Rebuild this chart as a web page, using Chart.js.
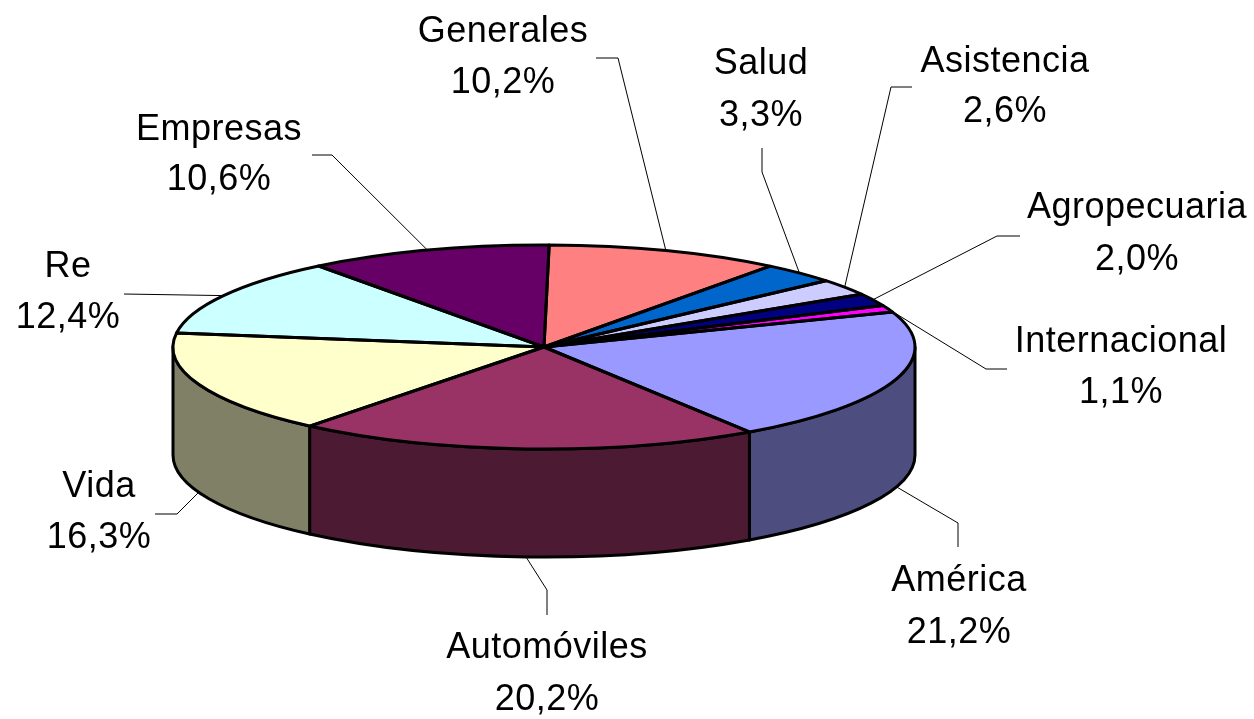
<!DOCTYPE html>
<html>
<head>
<meta charset="utf-8">
<script src="https://cdn.jsdelivr.net/npm/chart.js"></script>
<style>
  html, body { margin: 0; padding: 0; background: #ffffff; overflow: hidden; }
  canvas { display: block; }
</style>
</head>
<body>
<canvas id="c" width="1254" height="719"></canvas>
<script>
// ---- data ----
const categories = ['Generales', 'Salud', 'Asistencia', 'Agropecuaria', 'Internacional',
                    'América', 'Automóviles', 'Vida', 'Re', 'Empresas'];
const shares = [10.2, 3.3, 2.6, 2.0, 1.1, 21.2, 20.2, 16.3, 12.4, 10.6];

// ---- styles ----
const topColors = ['#FF8080', '#0066CC', '#CCCCFF', '#000080', '#FF00FF',
                   '#9999FF', '#993366', '#FFFFCC', '#CCFFFF', '#660066'];
function shade(hex, f) {
  const n = parseInt(hex.slice(1), 16);
  const r = Math.round(((n >> 16) & 255) * f), g = Math.round(((n >> 8) & 255) * f), b = Math.round((n & 255) * f);
  return 'rgb(' + r + ',' + g + ',' + b + ')';
}
const sideColors = topColors.map(c => shade(c, 0.5));

const TILT = 102 / 371;   // vertical squash of the pie top
const DEPTH = 108;        // thickness of the pie in px
const EDGE = 3;           // outline width of the pie

// label layout: [centerX, baseline line 1, baseline line 2]
const labelLayout = [
  [503, 42, 93], [761, 74, 126], [1005, 72, 122], [1137, 218, 270], [1121, 352, 403],
  [959, 591, 643], [547, 658, 710], [99, 497, 548], [68, 277, 328], [219, 140, 190]
];
// leader line: [startX, startY, elbowX, elbowY]; the end is computed on the pie
const leaderLayout = [
  [596, 58, 618, 58], [762, 148, 762, 172], [912, 87, 891, 87], [1020, 236, 997, 236],
  [1007, 369, 986, 369], [958, 547, 958, 523], [547, 615, 547, 590], [155, 514, 177, 514],
  [124, 294, 124, 294], [312, 155, 332, 155]
];

function pieGeom(chart) {
  const a = chart.chartArea;
  const rx = (a.right - a.left) / 2;
  return { rx: rx, ry: rx * TILT, depth: DEPTH };
}

const pie3d = {
  id: 'pie3d',
  beforeDatasetsDraw(chart) {
    const ctx = chart.ctx;
    const arcs = chart.getDatasetMeta(0).data;
    const g = pieGeom(chart);
    const cx = arcs[0].x, cy = arcs[0].y, r = arcs[0].outerRadius;
    // side walls (front half only)
    ctx.save();
    ctx.lineWidth = EDGE;
    ctx.lineJoin = 'round';
    ctx.strokeStyle = '#000';
    arcs.forEach((arc, i) => {
      const a0 = Math.max(arc.startAngle, 0), a1 = Math.min(arc.endAngle, Math.PI);
      if (a1 <= a0) return;
      ctx.beginPath();
      ctx.ellipse(cx, cy, g.rx, g.ry, 0, a0, a1, false);
      ctx.ellipse(cx, cy + g.depth, g.rx, g.ry, 0, a1, a0, true);
      ctx.closePath();
      ctx.fillStyle = sideColors[i];
      ctx.fill();
      ctx.stroke();
    });
    ctx.restore();
    // squash the library's arcs into the tilted top face
    ctx.save();
    ctx.translate(cx, cy);
    ctx.scale(g.rx / r, g.ry / r);
    ctx.translate(-cx, -cy);
  },
  afterDatasetsDraw(chart) {
    const ctx = chart.ctx;
    ctx.restore();
    const arcs = chart.getDatasetMeta(0).data;
    const g = pieGeom(chart);
    const cx = arcs[0].x, cy = arcs[0].y;
    // outlines of the top face slices
    ctx.save();
    ctx.lineWidth = EDGE;
    ctx.lineJoin = 'round';
    ctx.strokeStyle = '#000';
    arcs.forEach(arc => {
      ctx.beginPath();
      ctx.moveTo(cx, cy);
      ctx.lineTo(cx + g.rx * Math.cos(arc.startAngle), cy + g.ry * Math.sin(arc.startAngle));
      ctx.ellipse(cx, cy, g.rx, g.ry, 0, arc.startAngle, arc.endAngle, false);
      ctx.closePath();
      ctx.stroke();
    });
    ctx.restore();
    // leader lines and labels
    ctx.save();
    ctx.strokeStyle = '#000';
    ctx.lineWidth = 1;
    ctx.fillStyle = '#000';
    ctx.font = '36px "Liberation Sans", Arial, sans-serif';
    if ('letterSpacing' in ctx) ctx.letterSpacing = '0.5px';
    ctx.textAlign = 'center';
    ctx.textBaseline = 'alphabetic';
    arcs.forEach((arc, i) => {
      const mid = (arc.startAngle + arc.endAngle) / 2;
      const px = cx + g.rx * Math.cos(mid);
      const py = cy + g.ry * Math.sin(mid) + (Math.sin(mid) > 0 ? g.depth : 0);
      const L = leaderLayout[i];
      ctx.beginPath();
      ctx.moveTo(L[0], L[1]);
      ctx.lineTo(L[2], L[3]);
      ctx.lineTo(px, py);
      ctx.stroke();
      const T = labelLayout[i];
      const v = chart.data.datasets[0].data[i];
      ctx.fillText(chart.data.labels[i], T[0], T[1]);
      ctx.fillText(v.toFixed(1).replace('.', ',') + '%', T[0], T[2]);
    });
    ctx.restore();
  }
};

new Chart(document.getElementById('c'), {
  type: 'pie',
  data: {
    labels: categories,
    datasets: [{
      data: shares,
      backgroundColor: topColors,
      borderWidth: 0,
      clip: false
    }]
  },
  options: {
    responsive: false,
    devicePixelRatio: 1,
    animation: false,
    events: [],
    rotation: 0.8,
    layout: { padding: { left: 173, right: 339, top: 146, bottom: 171 } },
    plugins: { legend: { display: false }, tooltip: { enabled: false } }
  },
  plugins: [pie3d]
});
</script>
</body>
</html>
